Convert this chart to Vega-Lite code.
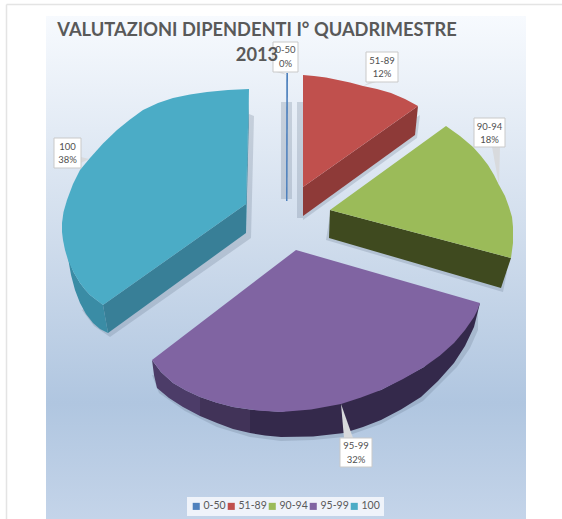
{"$schema":"https://vega.github.io/schema/vega-lite/v6.json","width":562,"height":519,"padding":0,"autosize":{"type":"none"},"background":"white",
"title":{"text":["VALUTAZIONI DIPENDENTI I° QUADRIMESTRE","2013"],"font":"Lato","fontSize":18.3,"fontWeight":"bold","color":"#595959","anchor":"middle","dx":-24,"offset":-79,"lineHeight":25,"baseline":"alphabetic"},
"datasets":{
"panel":[{"x":46,"x2":526,"y":16,"y2":519}],
"frame":[{"x":6.5,"x2":6.5,"y":4.5,"y2":519},{"x":6.5,"x2":562,"y":4.5,"y2":4.5}],
"shadow":[
{"s":"a","i":0,"x":281,"y":102},{"s":"a","i":1,"x":292,"y":102},{"s":"a","i":2,"x":292,"y":199},{"s":"a","i":3,"x":281,"y":199},
{"s":"b","i":0,"x":297,"y":102},{"s":"b","i":1,"x":303,"y":102},{"s":"b","i":2,"x":303,"y":218},{"s":"b","i":3,"x":297,"y":218},
{"s":"c","i":0,"x":249,"y":114},{"s":"c","i":1,"x":254,"y":116},{"s":"c","i":2,"x":251,"y":238},{"s":"c","i":3,"x":110,"y":337},{"s":"c","i":4,"x":94,"y":326},{"s":"c","i":5,"x":82,"y":310},{"s":"c","i":6,"x":100,"y":300},{"s":"c","i":7,"x":240,"y":200},
{"s":"d","i":0,"x":152,"y":375},{"s":"d","i":1,"x":159,"y":393},{"s":"d","i":2,"x":185,"y":411},{"s":"d","i":3,"x":217,"y":427},{"s":"d","i":4,"x":250,"y":437},{"s":"d","i":5,"x":281,"y":441},{"s":"d","i":6,"x":313,"y":440},{"s":"d","i":7,"x":344,"y":437},{"s":"d","i":8,"x":381,"y":424},{"s":"d","i":9,"x":423,"y":401},{"s":"d","i":10,"x":457,"y":367},{"s":"d","i":11,"x":470,"y":348},{"s":"d","i":12,"x":478,"y":330},{"s":"d","i":13,"x":478,"y":310},{"s":"d","i":14,"x":300,"y":400},
{"s":"e","i":0,"x":326,"y":240},{"s":"e","i":1,"x":503,"y":292},{"s":"e","i":2,"x":507,"y":272},{"s":"e","i":3,"x":330,"y":215},
{"s":"f","i":0,"x":303,"y":220},{"s":"f","i":1,"x":417,"y":138},{"s":"f","i":2,"x":420,"y":115},{"s":"f","i":3,"x":303,"y":190}],
"sides":[
{"p":"100 a","i":0,"x":249,"y":89},{"p":"100 a","i":1,"x":249,"y":115},{"p":"100 a","i":2,"x":246,"y":233},{"p":"100 a","i":3,"x":246,"y":204},
{"p":"100 b","i":0,"x":246,"y":204},{"p":"100 b","i":1,"x":246,"y":233},{"p":"100 b","i":2,"x":108,"y":333},{"p":"100 b","i":3,"x":103,"y":305},
{"p":"100 c","i":0,"x":68,"y":258},{"p":"100 c","i":1,"x":71,"y":275},{"p":"100 c","i":2,"x":75,"y":290},{"p":"100 c","i":3,"x":80,"y":303},{"p":"100 c","i":4,"x":86,"y":314},{"p":"100 c","i":5,"x":93,"y":323},{"p":"100 c","i":6,"x":100,"y":329},{"p":"100 c","i":7,"x":108,"y":333},{"p":"100 c","i":8,"x":103,"y":305},{"p":"100 c","i":9,"x":90,"y":295},{"p":"100 c","i":10,"x":85,"y":289.5},{"p":"100 c","i":11,"x":80,"y":283},{"p":"100 c","i":12,"x":73.5,"y":272},
{"p":"51-89 a","i":0,"x":418,"y":106},{"p":"51-89 a","i":1,"x":415,"y":135},{"p":"51-89 a","i":2,"x":303,"y":216},{"p":"51-89 a","i":3,"x":303,"y":187},
{"p":"90-94 a","i":0,"x":330,"y":210},{"p":"90-94 a","i":1,"x":511,"y":258},{"p":"90-94 a","i":2,"x":501,"y":288},{"p":"90-94 a","i":3,"x":329,"y":238},
{"p":"95-99 a","i":0,"x":152,"y":360},{"p":"95-99 a","i":1,"x":154,"y":375},{"p":"95-99 a","i":2,"x":157,"y":388},{"p":"95-99 a","i":3,"x":169,"y":398},{"p":"95-99 a","i":4,"x":183,"y":407},{"p":"95-99 a","i":5,"x":200,"y":416},{"p":"95-99 a","i":6,"x":200,"y":397},{"p":"95-99 a","i":7,"x":186,"y":390.5},{"p":"95-99 a","i":8,"x":173,"y":383},{"p":"95-99 a","i":9,"x":161,"y":372},
{"p":"95-99 b","i":0,"x":200,"y":397},{"p":"95-99 b","i":1,"x":200,"y":416},{"p":"95-99 b","i":2,"x":217,"y":423},{"p":"95-99 b","i":3,"x":233,"y":429},{"p":"95-99 b","i":4,"x":250,"y":433},{"p":"95-99 b","i":5,"x":250,"y":409.5},{"p":"95-99 b","i":6,"x":233,"y":407},{"p":"95-99 b","i":7,"x":216,"y":402.5},
{"p":"95-99 c","i":0,"x":250,"y":409.5},{"p":"95-99 c","i":1,"x":250,"y":433},{"p":"95-99 c","i":2,"x":265,"y":435.5},{"p":"95-99 c","i":3,"x":281,"y":437},{"p":"95-99 c","i":4,"x":313,"y":436.5},{"p":"95-99 c","i":5,"x":344,"y":433},{"p":"95-99 c","i":6,"x":363,"y":427},{"p":"95-99 c","i":7,"x":381,"y":420},{"p":"95-99 c","i":8,"x":401,"y":409.5},{"p":"95-99 c","i":9,"x":421,"y":397},{"p":"95-99 c","i":10,"x":438,"y":381},{"p":"95-99 c","i":11,"x":454,"y":363},{"p":"95-99 c","i":12,"x":465,"y":346},{"p":"95-99 c","i":13,"x":474,"y":327},{"p":"95-99 c","i":14,"x":480,"y":303},{"p":"95-99 c","i":15,"x":424,"y":367},{"p":"95-99 c","i":16,"x":381,"y":390},{"p":"95-99 c","i":17,"x":281,"y":412}],
"tops":[
{"f":"0-50","i":0,"x":286.3,"y":73},{"f":"0-50","i":1,"x":288,"y":73},{"f":"0-50","i":2,"x":287.5,"y":201},{"f":"0-50","i":3,"x":286,"y":201},
{"f":"51-89","i":0,"x":303,"y":75},{"f":"51-89","i":1,"x":314,"y":76},{"f":"51-89","i":2,"x":326,"y":77.5},{"f":"51-89","i":3,"x":338,"y":80},{"f":"51-89","i":4,"x":350,"y":82.5},{"f":"51-89","i":5,"x":363,"y":86},{"f":"51-89","i":6,"x":377,"y":89},{"f":"51-89","i":7,"x":391,"y":93},{"f":"51-89","i":8,"x":405,"y":99},{"f":"51-89","i":9,"x":418,"y":106},{"f":"51-89","i":10,"x":303,"y":187},
{"f":"90-94","i":0,"x":446,"y":126},{"f":"90-94","i":1,"x":460,"y":136},{"f":"90-94","i":2,"x":473,"y":147},{"f":"90-94","i":3,"x":481,"y":156},{"f":"90-94","i":4,"x":488,"y":165},{"f":"90-94","i":5,"x":494,"y":175},{"f":"90-94","i":6,"x":499,"y":185},{"f":"90-94","i":7,"x":505,"y":196},{"f":"90-94","i":8,"x":509,"y":207},{"f":"90-94","i":9,"x":512,"y":217},{"f":"90-94","i":10,"x":513,"y":227},{"f":"90-94","i":11,"x":513,"y":243},{"f":"90-94","i":12,"x":511,"y":258},{"f":"90-94","i":13,"x":330,"y":210},
{"f":"95-99","i":0,"x":296,"y":250},{"f":"95-99","i":1,"x":480,"y":303},{"f":"95-99","i":2,"x":477.5,"y":310},{"f":"95-99","i":3,"x":474,"y":317},{"f":"95-99","i":4,"x":465,"y":330},{"f":"95-99","i":5,"x":454,"y":343},{"f":"95-99","i":6,"x":440,"y":355.5},{"f":"95-99","i":7,"x":424,"y":367},{"f":"95-99","i":8,"x":403,"y":379},{"f":"95-99","i":9,"x":381,"y":390},{"f":"95-99","i":10,"x":361,"y":397.5},{"f":"95-99","i":11,"x":341,"y":404},{"f":"95-99","i":12,"x":311,"y":409.5},{"f":"95-99","i":13,"x":281,"y":412},{"f":"95-99","i":14,"x":257,"y":410.5},{"f":"95-99","i":15,"x":233,"y":407},{"f":"95-99","i":16,"x":216,"y":402.5},{"f":"95-99","i":17,"x":200,"y":397},{"f":"95-99","i":18,"x":186,"y":390.5},{"f":"95-99","i":19,"x":173,"y":383},{"f":"95-99","i":20,"x":161,"y":372},{"f":"95-99","i":21,"x":152,"y":360},
{"f":"100","i":0,"x":249,"y":89},{"f":"100","i":1,"x":246,"y":204},{"f":"100","i":2,"x":103,"y":305},{"f":"100","i":3,"x":90,"y":295},{"f":"100","i":4,"x":85,"y":289.5},{"f":"100","i":5,"x":80,"y":283},{"f":"100","i":6,"x":73.5,"y":272},{"f":"100","i":7,"x":68,"y":260},{"f":"100","i":8,"x":65,"y":250},{"f":"100","i":9,"x":63,"y":240},{"f":"100","i":10,"x":62,"y":232},{"f":"100","i":11,"x":62,"y":223},{"f":"100","i":12,"x":63.5,"y":212},{"f":"100","i":13,"x":67,"y":200},{"f":"100","i":14,"x":73,"y":184},{"f":"100","i":15,"x":80,"y":170},{"f":"100","i":16,"x":90,"y":158},{"f":"100","i":17,"x":103,"y":143.5},{"f":"100","i":18,"x":117,"y":130},{"f":"100","i":19,"x":130,"y":119.5},{"f":"100","i":20,"x":143,"y":110},{"f":"100","i":21,"x":158,"y":103},{"f":"100","i":22,"x":173,"y":98},{"f":"100","i":23,"x":190,"y":94.5},{"f":"100","i":24,"x":207,"y":92},{"f":"100","i":25,"x":228,"y":90}],
"pointers":[
{"q":"0-50","i":0,"x":276,"y":72},{"q":"0-50","i":1,"x":287,"y":75},{"q":"0-50","i":2,"x":282,"y":72},
{"q":"51-89","i":0,"x":370,"y":82},{"q":"51-89","i":1,"x":363,"y":86},{"q":"51-89","i":2,"x":376,"y":82},
{"q":"90-94","i":0,"x":492,"y":147},{"q":"90-94","i":1,"x":499,"y":185},{"q":"90-94","i":2,"x":500,"y":147},
{"q":"95-99","i":0,"x":344,"y":438},{"q":"95-99","i":1,"x":341,"y":404},{"q":"95-99","i":2,"x":353,"y":438},
{"q":"100","i":0,"x":81,"y":157},{"q":"100","i":1,"x":89,"y":159},{"q":"100","i":2,"x":81,"y":163}],
"boxes":[
{"name":"0-50","x":273,"x2":298,"y":42,"y2":72},
{"name":"51-89","x":366,"x2":398,"y":52,"y2":82},
{"name":"90-94","x":474,"x2":505,"y":118,"y2":147},
{"name":"95-99","x":340,"x2":372,"y":438,"y2":467},
{"name":"100","x":54,"x2":81,"y":138,"y2":168}],
"labels":[
{"t":"0-50","x":285.5,"y":50},{"t":"0%","x":285.5,"y":64},
{"t":"51-89","x":382,"y":61},{"t":"12%","x":382,"y":74},
{"t":"90-94","x":489.5,"y":127},{"t":"18%","x":489.5,"y":140},
{"t":"95-99","x":356,"y":446},{"t":"32%","x":356,"y":460},
{"t":"100","x":67.5,"y":147},{"t":"38%","x":67.5,"y":160}]
},
"layer":[
{"data":{"name":"frame"},"mark":{"type":"rule","color":"#e4e4e4","strokeWidth":1.5},"encoding":{"x":{"field":"x","type":"quantitative","scale":{"domain":[0,562],"nice":false,"zero":false},"axis":null},"x2":{"field":"x2"},"y":{"field":"y","type":"quantitative","scale":{"domain":[519,0],"nice":false,"zero":false},"axis":null},"y2":{"field":"y2"}}},
{"data":{"name":"panel"},"mark":{"type":"rect","color":{"gradient":"linear","x1":0,"y1":0,"x2":0,"y2":1,"stops":[{"offset":0,"color":"#f7fafe"},{"offset":0.45,"color":"#cfdcec"},{"offset":0.77,"color":"#b0c6e0"},{"offset":1,"color":"#c4d4e9"}]}},"encoding":{"x":{"field":"x","type":"quantitative","scale":{"domain":[0,562],"nice":false,"zero":false},"axis":null},"x2":{"field":"x2"},"y":{"field":"y","type":"quantitative","scale":{"domain":[519,0],"nice":false,"zero":false},"axis":null},"y2":{"field":"y2"}}},
{"data":{"name":"shadow"},"mark":{"type":"line","strokeWidth":0,"fill":"#5f6f85","opacity":0.24},"encoding":{"x":{"field":"x","type":"quantitative","scale":{"domain":[0,562],"nice":false,"zero":false},"axis":null},"y":{"field":"y","type":"quantitative","scale":{"domain":[519,0],"nice":false,"zero":false},"axis":null},"detail":{"field":"s"},"order":{"field":"i"}}},
{"data":{"name":"sides"},"mark":{"type":"line","strokeWidth":0},"encoding":{"x":{"field":"x","type":"quantitative","scale":{"domain":[0,562],"nice":false,"zero":false},"axis":null},"y":{"field":"y","type":"quantitative","scale":{"domain":[519,0],"nice":false,"zero":false},"axis":null},"order":{"field":"i"},"fill":{"field":"p","type":"nominal","legend":null,"scale":{"domain":["100 a","100 b","100 c","51-89 a","90-94 a","95-99 a","95-99 b","95-99 c"],"range":["#3a8ba4","#387f97","#3a8ca5","#8e3a38","#3f4a1f","#4c3c68","#413358","#34294b"]}}}},
{"data":{"name":"tops"},"mark":{"type":"line","strokeWidth":0},"encoding":{"x":{"field":"x","type":"quantitative","scale":{"domain":[0,562],"nice":false,"zero":false},"axis":null},"y":{"field":"y","type":"quantitative","scale":{"domain":[519,0],"nice":false,"zero":false},"axis":null},"order":{"field":"i"},"fill":{"field":"f","type":"nominal","scale":{"domain":["0-50","51-89","90-94","95-99","100"],"range":["#4f81bd","#c0504d","#9bbb59","#8064a2","#4bacc6"]},"legend":{"title":null,"orient":"none","legendX":187,"legendY":497,"direction":"horizontal","columns":5,"fillColor":"#eff3fa","padding":4,"symbolType":"square","symbolSize":50,"symbolStrokeWidth":0,"labelFont":"Lato","labelFontSize":10.5,"labelColor":"#595959","labelOffset":2,"columnPadding":0}}}},
{"data":{"name":"pointers"},"mark":{"type":"line","strokeWidth":0,"fill":"#d8dadd"},"encoding":{"x":{"field":"x","type":"quantitative","scale":{"domain":[0,562],"nice":false,"zero":false},"axis":null},"y":{"field":"y","type":"quantitative","scale":{"domain":[519,0],"nice":false,"zero":false},"axis":null},"detail":{"field":"q"},"order":{"field":"i"}}},
{"data":{"name":"boxes"},"mark":{"type":"rect","fill":"#ffffff","stroke":"#c9c9c9","strokeWidth":1},"encoding":{"x":{"field":"x","type":"quantitative","scale":{"domain":[0,562],"nice":false,"zero":false},"axis":null},"x2":{"field":"x2"},"y":{"field":"y","type":"quantitative","scale":{"domain":[519,0],"nice":false,"zero":false},"axis":null},"y2":{"field":"y2"}}},
{"data":{"name":"labels"},"mark":{"type":"text","font":"Lato","fontSize":9.5,"color":"#505050","align":"center","baseline":"middle"},"encoding":{"x":{"field":"x","type":"quantitative","scale":{"domain":[0,562],"nice":false,"zero":false},"axis":null},"y":{"field":"y","type":"quantitative","scale":{"domain":[519,0],"nice":false,"zero":false},"axis":null},"text":{"field":"t"}}}
],
"resolve":{"scale":{"fill":"independent"}},
"config":{"view":{"stroke":null}}
}
